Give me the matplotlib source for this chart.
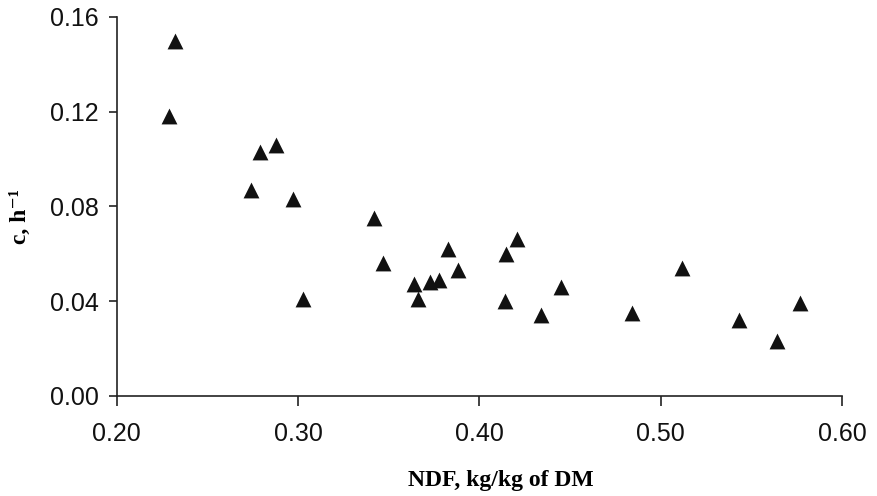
import matplotlib
matplotlib.use("Agg")
import matplotlib.pyplot as plt
import numpy as np

# NDF (kg/kg DM) vs passage rate c (h-1)
ndf = [0.232, 0.229, 0.279, 0.288, 0.274, 0.297, 0.342, 0.347, 0.303, 0.364,
       0.366, 0.373, 0.378, 0.383, 0.388, 0.415, 0.421, 0.414, 0.434, 0.445,
       0.484, 0.512, 0.543, 0.564, 0.577]
c = [0.150, 0.118, 0.103, 0.106, 0.087, 0.083, 0.075, 0.056, 0.041, 0.047,
     0.041, 0.048, 0.049, 0.062, 0.053, 0.060, 0.066, 0.040, 0.034, 0.046,
     0.035, 0.054, 0.032, 0.023, 0.039]

xticks = [0.20, 0.30, 0.40, 0.50, 0.60]
yticks = [0.00, 0.04, 0.08, 0.12, 0.16]

plt.rcParams['font.family'] = ['Liberation Sans', 'DejaVu Sans']

fig = plt.figure(figsize=(8.77, 4.96), dpi=100)
ax = fig.add_axes([0.133, 0.202, 0.827, 0.764])

ax.scatter(ndf, c, marker='^', s=130, color='#111111', linewidths=0, zorder=3)

ax.set_xlim(0.20, 0.60)
ax.set_ylim(0.0, 0.16)
ax.set_xticks(xticks)
ax.set_xticklabels([f"{v:.2f}" for v in xticks])
ax.set_yticks(yticks)
ax.set_yticklabels([f"{v:.2f}" for v in yticks])

ax.spines['top'].set_visible(False)
ax.spines['right'].set_visible(False)
for s in ['left', 'bottom']:
    ax.spines[s].set_linewidth(1.2)
    ax.spines[s].set_color('#222222')

ax.tick_params(axis='x', direction='out', length=7, width=1.2, pad=12,
               labelsize=18, colors='#222222', labelcolor='#111111')
ax.tick_params(axis='y', direction='out', length=6, width=1.2, pad=7,
               labelsize=18, colors='#222222', labelcolor='#111111')

ax.set_xlabel("NDF, kg/kg of DM", family=['Liberation Serif', 'DejaVu Serif'],
              fontweight='bold', fontsize=17, va='center')
ax.xaxis.set_label_coords(0.53, -0.224)
ax.set_ylabel("c, h\u207b\u00b9", family=['Liberation Serif', 'DejaVu Serif'],
              fontweight='bold', fontsize=17, va='center')
ax.yaxis.set_label_coords(-0.132, 0.474)

fig.savefig("out.png", dpi=100, facecolor='white')
